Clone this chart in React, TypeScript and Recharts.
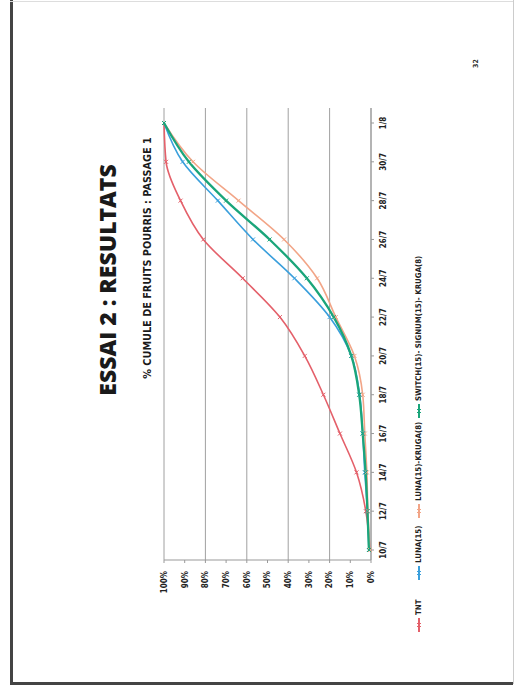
import React from "react"
import { LineChart, Line, XAxis, YAxis, CartesianGrid } from "recharts"

const dates = ["10/7", "12/7", "14/7", "16/7", "18/7", "20/7", "22/7", "24/7", "26/7", "28/7", "30/7", "1/8"]
const tnt = [0.5, 2.5, 7, 15, 23, 32, 44, 62, 81, 92, 99, 100]
const luna = [1, 1.7, 3, 4, 5.5, 9.5, 20, 37, 57, 74, 91, 100]
const lunaKruga = [0.5, 1.5, 2, 3, 4, 8, 17, 26, 42, 64, 86, 100]
const switchMix = [1, 1.7, 2.6, 4, 5.7, 9.5, 18, 31, 49, 70, 88, 100]
const pctTicks = [0, 10, 20, 30, 40, 50, 60, 70, 80, 90, 100]

const seriesNames = ["TNT", "LUNA(15)", "LUNA(15)-KRUGA(8)", "SWITCH(15)- SIGNUM(15)- KRUGA(8)"]

const data = dates.map((d, i) => ({
  date: d,
  tnt: tnt[i],
  luna: luna[i],
  lunaKruga: lunaKruga[i],
  switchMix: switchMix[i],
}))

const font = "'Liberation Sans Narrow', 'DejaVu Sans Condensed', Arial, sans-serif"

const series = [
  { key: "tnt", name: seriesNames[0], color: "#e4606a", width: 1.6 },
  { key: "luna", name: seriesNames[1], color: "#3a9fdc", width: 1.6 },
  { key: "lunaKruga", name: seriesNames[2], color: "#f2a587", width: 1.6 },
  { key: "switchMix", name: seriesNames[3], color: "#1aa57a", width: 2.3 },
]

const Cross = (color: string) => (props: any) => {
  const { cx, cy, index } = props
  if (cx == null || cy == null) return <g key={index} />
  return (
    <g key={index}>
      <line x1={cx - 2} y1={cy - 2} x2={cx + 2} y2={cy + 2} stroke={color} strokeWidth={1} />
      <line x1={cx - 2} y1={cy + 2} x2={cx + 2} y2={cy - 2} stroke={color} strokeWidth={1} />
    </g>
  )
}

// where each legend entry starts, along the unrotated slide
const legendLeft = [58, 110, 172, 272]

function LegendBox() {
  return (
    <>
      {series.map((s, i) => (
        <div
          key={s.key}
          style={{
            position: "absolute",
            left: legendLeft[i],
            top: 414,
            display: "flex",
            alignItems: "center",
            whiteSpace: "nowrap",
            fontFamily: font,
            fontWeight: 700,
            fontSize: 7.8,
            color: "#222",
          }}
        >
          <svg width={14} height={8} style={{ marginRight: 3 }}>
            <line x1={0} y1={4} x2={14} y2={4} stroke={s.color} strokeWidth={2} />
            <line x1={5} y1={2} x2={9} y2={6} stroke={s.color} strokeWidth={1} />
            <line x1={5} y1={6} x2={9} y2={2} stroke={s.color} strokeWidth={1} />
          </svg>
          <span>{s.name}</span>
        </div>
      ))}
    </>
  )
}

export default function App() {
  return (
    <div style={{ position: "absolute", left: 0, top: 0, width: 523, height: 690, background: "#fff", overflow: "hidden" }}>
      {/* page frame */}
      <div style={{ position: "absolute", left: 10, top: 0, width: 3, height: 684, background: "#444" }} />
      <div style={{ position: "absolute", left: 10, top: 682, width: 503, height: 3, background: "#444" }} />
      <div style={{ position: "absolute", left: 513, top: 0, width: 1, height: 684, background: "#ccc" }} />
      <div style={{ position: "absolute", left: 10, top: 1, width: 503, height: 1, background: "#ddd" }} />

      {/* the slide is printed rotated */}
      <div
        style={{
          position: "absolute",
          left: 0,
          top: 0,
          width: 690,
          height: 523,
          transformOrigin: "0 0",
          transform: "translateY(690px) rotate(-90deg)",
        }}
      >
        <div
          style={{
            position: "absolute",
            left: 210,
            width: 400,
            top: 92,
            textAlign: "center",
            fontFamily: "'Open Sans', 'Liberation Sans', sans-serif",
            fontWeight: 800,
            fontSize: 23,
            lineHeight: "30px",
            color: "#1a1a1a",
          }}
        >
          ESSAI 2 : RESULTATS
        </div>
        <div
          style={{
            position: "absolute",
            left: 232,
            width: 400,
            top: 142,
            textAlign: "center",
            fontFamily: font,
            fontWeight: 700,
            fontSize: 10.8,
            lineHeight: "12px",
            color: "#1a1a1a",
          }}
        >
          % CUMULE DE FRUITS POURRIS : PASSAGE 1
        </div>
        <div
          style={{
            position: "absolute",
            left: 622,
            top: 472,
            fontFamily: font,
            fontWeight: 700,
            fontSize: 7,
            color: "#333",
          }}
        >
          32
        </div>

        <div style={{ position: "absolute", left: 0, top: 0 }}>
          <LineChart width={690} height={523} data={data} margin={{ top: 164, right: 108, bottom: 122, left: 90 }}>
            <CartesianGrid vertical={false} stroke="#a0a0a0" strokeWidth={1} />
            <XAxis
              dataKey="date"
              height={30}
              padding={{ left: 10, right: 15 }}
              stroke="#999"
              tickSize={3}
              tick={{ fontFamily: font, fontWeight: 700, fontSize: 8, fill: "#222" }}
              tickMargin={6}
              interval={0}
            />
            <YAxis
              width={40}
              domain={[0, 100]}
              ticks={pctTicks}
              tickFormatter={(v) => `${v}%`}
              stroke="#999"
              tickSize={3}
              tickMargin={8}
              tick={{ fontFamily: font, fontWeight: 700, fontSize: 8, fill: "#222" }}
            />
            {series.map((s) => (
              <Line
                key={s.key}
                type="monotone"
                dataKey={s.key}
                name={s.name}
                stroke={s.color}
                strokeWidth={s.width}
                dot={Cross(s.color)}
                activeDot={false}
                isAnimationActive={false}
              />
            ))}
          </LineChart>
        </div>
        <LegendBox />
      </div>
    </div>
  )
}
